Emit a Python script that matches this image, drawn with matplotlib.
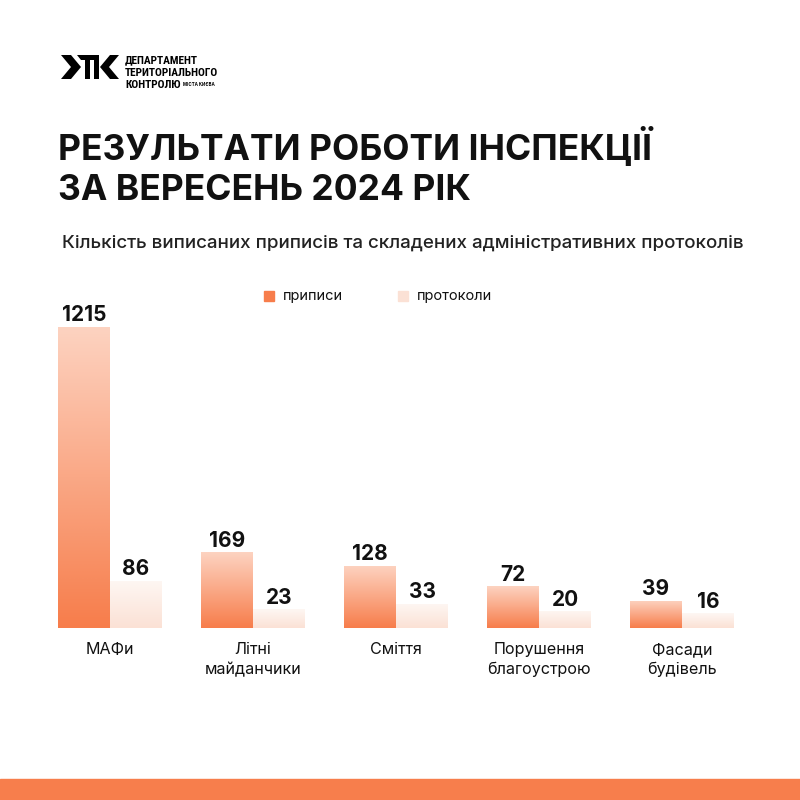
import numpy as np
import matplotlib
matplotlib.use("Agg")
import matplotlib.pyplot as plt
import matplotlib.transforms as mtransforms
from matplotlib.colors import LinearSegmentedColormap
from matplotlib.image import AxesImage

plt.rcParams['font.family'] = ['Inter', 'DejaVu Sans']

# дані
categories = ['МАФи', 'Літні\nмайданчики', 'Сміття', 'Порушення\nблагоустрою', 'Фасади\nбудівель']
prypysy = [1215, 169, 128, 72, 39]
protokoly = [86, 23, 33, 20, 16]
series_names = ['приписи', 'протоколи']

title_lines = ['РЕЗУЛЬТАТИ РОБОТИ ІНСПЕКЦІЇ', 'ЗА ВЕРЕСЕНЬ 2024 РІК']
subtitle = 'Кількість виписаних приписів та складених адміністративних протоколів'
logo_lines = ['ДЕПАРТАМЕНТ', 'ТЕРИТОРІАЛЬНОГО', 'КОНТРОЛЮ']
logo_small = 'МІСТА КИЄВА'

orange = '#F77D4B'
orange_top = '#FDD3C1'
light = '#FBE1D5'
light_top = '#FEF7F3'
band = '#F77E4C'

fig = plt.figure(figsize=(8, 8), dpi=100)
fig.patch.set_facecolor('white')

# шкала як на картинці: стовпці не лінійні
power = 0.7
def fwd(v):
    return np.sign(v) * np.abs(v) ** power
def inv(v):
    return np.sign(v) * np.abs(v) ** (1 / power)

ax = fig.add_axes([0.05, 0.215, 0.90, 0.41])
ax.set_yscale('function', functions=(fwd, inv))
ax.set_facecolor('none')

x = np.arange(len(categories))
w = 52 / 143


def grad_bar(bar, c_bottom, c_top):
    cmap = LinearSegmentedColormap.from_list('g', [c_bottom, c_top])
    grad = np.linspace(0, 1, 256).reshape(-1, 1)
    tb = mtransforms.TransformedBbox(bar.get_bbox(), ax.transData)
    im = AxesImage(ax, cmap=cmap, origin='lower', interpolation='bilinear',
                   extent=(0, 1, 0, 1))
    im.set_data(grad)
    im.set_transform(mtransforms.BboxTransformTo(tb))
    im.set_clip_path(bar)
    ax.add_image(im)


bars1 = ax.bar(x - w / 2, prypysy, w, color='none', linewidth=0)
bars2 = ax.bar(x + w / 2, protokoly, w, color='none', linewidth=0)
for b in bars1:
    grad_bar(b, orange, orange_top)
for b in bars2:
    grad_bar(b, light, light_top)

for xi, v in zip(x, prypysy):
    ax.annotate(str(v), (xi - w / 2, v), xytext=(0, 1), textcoords='offset points',
                ha='center', va='bottom', fontsize=15, fontweight='bold', color='#111111')
for xi, v in zip(x, protokoly):
    ax.annotate(str(v), (xi + w / 2, v), xytext=(0, 1), textcoords='offset points',
                ha='center', va='bottom', fontsize=15, fontweight='bold', color='#111111')

ax.set_xlim((40 - 110) / 143, (760 - 110) / 143)
ax.set_ylim(0, 1371)
ax.set_xticks(x)
ax.set_xticklabels(categories, fontsize=11.6, color='#111111', linespacing=1.4)
ax.tick_params(axis='x', length=0, pad=10)
ax.set_yticks([])
ax.yaxis.set_minor_locator(matplotlib.ticker.NullLocator())
for s in ax.spines.values():
    s.set_visible(False)

# легенда
fig.patches.append(plt.Rectangle((264 / 800, 1 - 301 / 800), 10 / 800, 10 / 800,
                                 transform=fig.transFigure, color=orange))
fig.text(283 / 800, 1 - 296 / 800, series_names[0], fontsize=10.5, va='center', color='#111111')
fig.patches.append(plt.Rectangle((398 / 800, 1 - 301 / 800), 10 / 800, 10 / 800,
                                 transform=fig.transFigure, color=light))
fig.text(417 / 800, 1 - 296 / 800, series_names[1], fontsize=10.5, va='center', color='#111111')

# заголовки
fig.text(58 / 800, 1 - 147 / 800, title_lines[0], fontsize=25.5, fontweight='bold',
         va='center', color='#111111')
fig.text(58 / 800, 1 - 190 / 800, title_lines[1], fontsize=25.5, fontweight='bold',
         va='center', color='#111111')
fig.text(62 / 800, 1 - 243 / 800, subtitle, fontsize=13.5, fontweight='medium',
         va='center', color='#222222')

# логотип
def fpoly(pts):
    fig.patches.append(plt.Polygon([(a / 800, 1 - b / 800) for a, b in pts], closed=True,
                                   transform=fig.transFigure, color='black', lw=0))

fpoly([(61, 55), (71, 55), (81, 67), (71, 79), (61, 79), (71, 67)])
fpoly([(77, 55), (96, 55), (96, 60), (90, 60), (90, 79), (85, 79), (85, 60), (81, 60)])
fpoly([(94, 55), (99, 55), (99, 79), (94, 79)])
fpoly([(110, 55), (119, 55), (109, 67), (119, 79), (110, 79), (100, 67)])
for i, t in enumerate(logo_lines):
    fig.text(125 / 800, 1 - (60 + 12.5 * i) / 800, t, fontsize=8.2, fontweight='bold',
             va='center', color='black', family=['Roboto Condensed', 'Roboto', 'DejaVu Sans'])
fig.text(183 / 800, 1 - 85 / 800, logo_small, fontsize=3.2, fontweight='bold',
         va='center', color='black')

# нижня смуга
fig.patches.append(plt.Rectangle((0, 0), 1, 21 / 800, transform=fig.transFigure, color=band))

fig.savefig('out.png', dpi=100, facecolor='white')
